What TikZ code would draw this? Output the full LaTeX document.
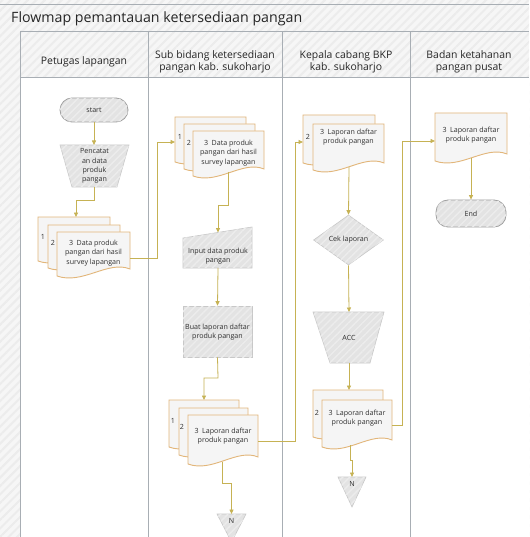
\documentclass[tikz,border=0pt]{standalone}
\usepackage{fontspec}
\setmainfont{Open Sans}
\usetikzlibrary{arrows.meta,shapes.geometric,patterns.meta,calc}
\definecolor{conncol}{RGB}{198,178,84}
\definecolor{docb}{RGB}{226,182,122}
\definecolor{docf}{RGB}{245,245,245}
\definecolor{shpf}{RGB}{227,227,227}
\definecolor{shpb}{RGB}{200,200,200}
\definecolor{termb}{RGB}{160,160,160}
\definecolor{lanel}{RGB}{168,174,180}
\definecolor{bgf}{RGB}{246,246,246}
\definecolor{hatchc}{RGB}{236,236,236}
\definecolor{hatchs}{RGB}{236,236,236}
\newcommand\smallf{\fontsize{7.1}{9.3}\selectfont}
\newcommand\headf{\fontsize{10.4}{12}\selectfont}
\newcommand\docsheet[4]{%
  \filldraw[docsty] (#1,#2) -- (#3,#2) -- (#3,{#4-7})
    .. controls ({#3-0.3*(#3-#1)},{#4-16}) and ({#1+0.35*(#3-#1)},{#4+9}) .. (#1,#4) -- cycle;}
\tikzset{
  docsty/.style={draw=docb, fill=docf, line width=0.9pt},
  shpsty/.style={draw=shpb, fill=shpf, line width=0.6pt,
    postaction={pattern={Lines[angle=45,distance=5pt,line width=1.4pt]}, pattern color=hatchs}},
  termsty/.style={draw=termb, fill=shpf, line width=0.8pt, rounded corners=12pt,
    postaction={pattern={Lines[angle=45,distance=5pt,line width=1.4pt]}, pattern color=hatchs}},
  txt/.style={font=\smallf, align=center, inner sep=0pt, text=black!82},
  head/.style={font=\headf, align=center, inner sep=0pt, text=black!85},
  flow/.style={draw=conncol, line width=0.8pt, -{Triangle[length=4.5pt,width=4pt]}},
  lane/.style={draw=lanel, line width=1pt},
}
\begin{document}
\begin{tikzpicture}[x=1pt,y=-1pt]
\useasboundingbox (0,0) rectangle (529,537);
% background
\fill[bgf] (0,0) rectangle (529,537);
\fill[pattern={Lines[angle=45,distance=6pt,line width=2pt]}, pattern color=hatchc] (0,0) rectangle (529,537);
\fill[white] (20,78) rectangle (529,537);
\draw[lane] (0,5) -- (529,5);
\draw[lane] (20,32) -- (529,32);
\draw[lane] (20,78) -- (529,78);
\foreach \x in {20,148,282,410} \draw[lane] (\x,32) -- (\x,537);
% title and headers
\node[anchor=west, inner sep=0pt, font=\fontsize{14.2}{16}\selectfont, text=black!85] (title) at (11,19) {Flowmap pemantauan ketersediaan pangan};
\node[head] (h1) at (84,62) {Petugas lapangan};
\node[head] (h2) at (215,62) {Sub bidang ketersediaan\\pangan kab. sukoharjo};
\node[head] (h3) at (346,62) {Kepala cabang BKP\\kab. sukoharjo};
\node[head] (h4) at (469,62) {Badan ketahanan\\pangan pusat};

% ---------- Lane 1 ----------
\node[termsty, minimum width=68pt, minimum height=24pt, txt] (start) at (94,110) {start};
\path[shpsty] (60,145) -- (129,145) -- (117,187) -- (72,187) -- cycle;
\node[txt] (pen) at (94.5,166) {Pencatat\\an data\\produk\\pangan};
\coordinate (penT) at (94,145);
\coordinate (penB) at (94,187);
\docsheet{38}{217}{110}{261}
\docsheet{48}{225}{120}{268}
\docsheet{57}{232}{130}{276}
\node[txt] (a1) at (43,237) {1};
\node[txt] (a2) at (53,243) {2};
\node[txt] (docA) at (93.5,253) {3\enspace Data produk\\pangan dari hasil\\survey lapangan};
\coordinate (docAtop) at (76,217);
\coordinate (docAR) at (130,258);

% ---------- Lane 2 ----------
\docsheet{175}{117}{246}{162}
\docsheet{184}{124}{255}{169}
\docsheet{193}{131}{264}{176}
\node[txt] (b1) at (180,137) {1};
\node[txt] (b2) at (189,143) {2};
\node[txt] (docB) at (228.5,153) {3\enspace Data produk\\pangan dari hasil\\survey lapangan};
\coordinate (docBL) at (175,142);
\coordinate (docBB) at (228,172);
\path[shpsty] (183,238) -- (252,227) -- (252,268) -- (183,268) -- cycle;
\node[txt] (inp) at (218,256) {Input data produk\\pangan};
\coordinate (inpT) at (218,232.5);
\coordinate (inpB) at (218,268);
\node[shpsty, minimum width=69pt, minimum height=51pt, inner sep=0pt] (proc) at (217.5,331.5) {};
\node[txt] (proct) at (217.5,332) {Buat laporan daftar\\produk pangan};
\docsheet{169}{400}{239}{447}
\docsheet{179}{408}{248}{455}
\docsheet{188}{415}{258}{464}
\node[txt] (c1) at (173,421) {1};
\node[txt] (c2) at (182,427) {2};
\node[txt] (docC) at (223,436) {3\enspace Laporan daftar\\produk pangan};
\coordinate (docCtop) at (204,400);
\coordinate (docCR) at (258,441);
\coordinate (docCB) at (222,462);
\path[shpsty] (217,514) -- (246,514) -- (231.5,542) -- cycle;
\node[txt] (n1) at (231.5,521) {N};
\coordinate (n1T) at (231.5,514);

% ---------- Lane 3 ----------
\docsheet{303}{115}{375}{163}
\docsheet{313}{124}{384}{170}
\node[txt] (d2) at (308,137) {2};
\node[txt] (docD) at (348.5,137) {3\enspace Laporan daftar\\produk pangan};
\coordinate (docDL) at (303,142);
\coordinate (docDB) at (349,167);
\node[shpsty, diamond, minimum width=70pt, minimum height=50pt, inner sep=0pt] (cek) at (348.5,240) {};
\node[txt] (cekt) at (348.5,240) {Cek laporan};
\path[shpsty] (313,312) -- (384,312) -- (370,363) -- (330,363) -- cycle;
\node[txt] (acc) at (349,338) {ACC};
\coordinate (accT) at (349,312);
\coordinate (accB) at (349,363);
\docsheet{313}{390}{383}{437}
\docsheet{322}{400}{392}{447}
\node[txt] (e2) at (317,413) {2};
\node[txt] (docE) at (357,418) {3\enspace Laporan daftar\\produk pangan};
\coordinate (docEtop) at (349,390);
\coordinate (docER) at (392,425);
\coordinate (docEB) at (350,445);
\path[shpsty] (338,477) -- (366,477) -- (352,507) -- cycle;
\node[txt] (n2) at (352,484) {N};
\coordinate (n2T) at (352,477);

% ---------- Lane 4 ----------
\docsheet{435}{113}{507}{161}
\node[txt] (docF) at (471,135) {3\enspace Laporan daftar\\produk pangan};
\coordinate (docFL) at (435,141);
\coordinate (docFB) at (471,158);
\node[termsty, minimum width=70pt, minimum height=27pt, txt] (endn) at (471,213.5) {End};

% ---------- connectors ----------
\draw[flow] (start.south) -- (penT);
\draw[flow] (penB) -- (94,200) -- (76,200) -- (docAtop);
\draw[flow] (docAR) -- (157,258) -- (157,142) -- (docBL);
\draw[flow] (docBB) -- (228,205) -- (218,205) -- (inpT);
\draw[flow] (inpB) -- (proc.north);
\draw[flow] (proc.south) -- (218,378) -- (204,378) -- (docCtop);
\draw[flow] (docCR) -- (295,441) -- (295,142) -- (docDL);
\draw[flow] (docCB) -- (222,483) -- (231.5,483) -- (n1T);
\draw[flow] (docDB) -- (cek.north);
\draw[flow] (cek.south) -- (accT);
\draw[flow] (accB) -- (docEtop);
\draw[flow] (docER) -- (402,425) -- (402,141) -- (docFL);
\draw[flow] (docEB) -- (350,460) -- (352,460) -- (n2T);
\draw[flow] (docFB) -- (endn.north);
\end{tikzpicture}
\end{document}
